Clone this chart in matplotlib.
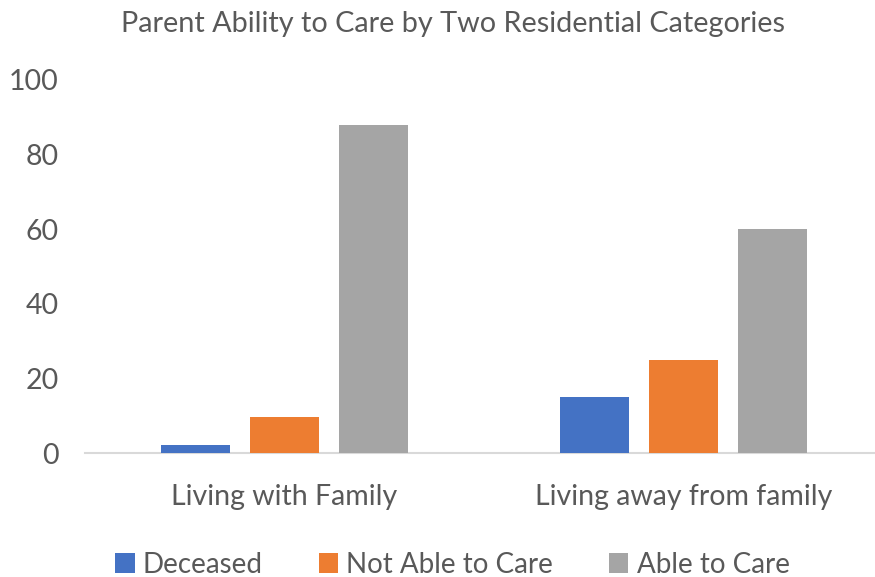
import matplotlib
matplotlib.use("Agg")
import matplotlib.pyplot as plt
import numpy as np

categories = ["Living with Family", "Living away from family"]
series_names = ["Deceased", "Not Able to Care", "Able to Care"]
deceased = [2.3, 15.0]
not_able = [9.8, 25.0]
able = [88.0, 60.0]
yticks = [0, 20, 40, 60, 80, 100]
colors = ["#4472C4", "#ED7D31", "#A5A5A5"]

plt.rcParams['font.family'] = ['Lato', 'DejaVu Sans']
txt = "#595959"

fig = plt.figure(figsize=(8.75, 5.77), dpi=100)
ax = fig.add_axes([0.0971, 0.2144, 0.912, 0.647])

x = np.arange(len(categories))
w = 0.175
step = 0.223
for i, (vals, name) in enumerate(zip([deceased, not_able, able], series_names)):
    ax.bar(x + (i - 1) * step, vals, width=w, color=colors[i], label=name, zorder=3)

ax.set_xlim(-0.5, 1.5)
ax.set_ylim(0, 100)
ax.set_yticks(yticks)
ax.set_xticks(x)
ax.set_xticklabels(categories, fontsize=20.5)
for s in ["top", "right", "left"]:
    ax.spines[s].set_visible(False)
ax.spines["bottom"].set_color("#D9D9D9")
ax.spines["bottom"].set_linewidth(1.5)
ax.tick_params(axis="both", length=0, colors=txt)
ax.tick_params(axis="y", labelsize=20.5, pad=19)
ax.tick_params(axis="x", pad=22)

fig.text(0.518, 0.958, "Parent Ability to Care by Two Residential Categories",
         ha="center", va="center", fontsize=20.8, color=txt)

leg = fig.legend(loc="center", bbox_to_anchor=(0.517, 0.021), ncol=3, frameon=False,
                 fontsize=20, handlelength=0.7, handleheight=0.7, handletextpad=0.3,
                 columnspacing=2.0)
for t in leg.get_texts():
    t.set_color(txt)

fig.savefig("out.png", dpi=100)
